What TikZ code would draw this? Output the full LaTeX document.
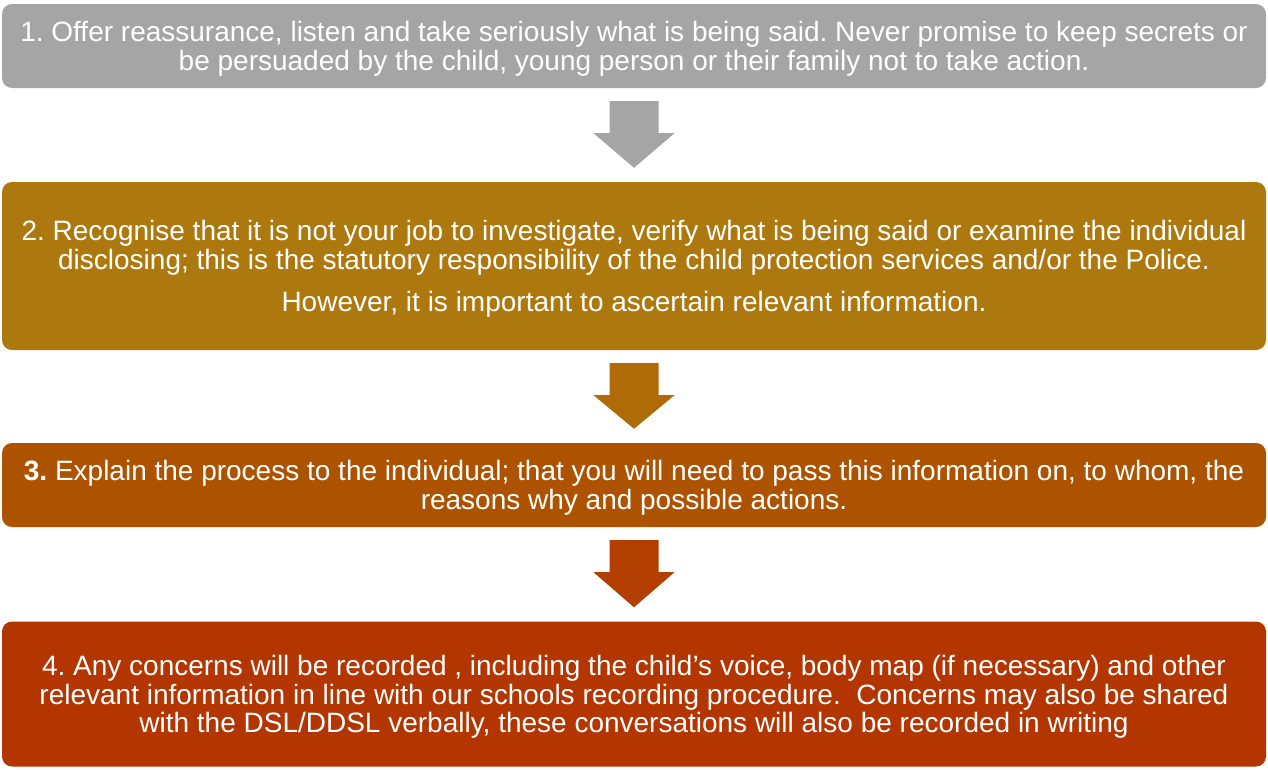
\documentclass[tikz,border=0pt]{standalone}
\usepackage{fontspec}
\setmainfont{Liberation Sans}
\usepackage{tikz}
\usetikzlibrary{calc}
\usetikzlibrary{positioning}
\definecolor{stepgray}{RGB}{165,165,165}
\definecolor{stepgold}{RGB}{173,121,14}
\definecolor{arrowgold}{RGB}{175,107,6}
\definecolor{steporange}{RGB}{173,83,0}
\definecolor{arrowrust}{RGB}{178,62,0}
\definecolor{stepred}{RGB}{179,53,0}

\begin{document}
\frenchspacing
\begin{tikzpicture}[x=1pt,y=-1pt,
  stepbox/.style={rectangle,rounded corners=10pt,minimum width=1264pt,inner sep=0pt,
    text=white,align=center,text depth=0pt,font=\fontsize{28}{28.8}\selectfont},
  downarrow/.style={fill=#1}]

\useasboundingbox (0,0) rectangle (1268,769);

\node[stepbox,fill=stepgray,minimum height=84pt] (b1) at (634,46)
  {1. Offer reassurance, listen and take seriously what is being said. Never promise to keep secrets or\\
   be persuaded by the child, young person or their family not to take action.};

\node[stepbox,fill=stepgold,minimum height=168pt] (b2) at (634,266)
  {2. Recognise that it is not your job to investigate, verify what is being said or examine the individual\\
   disclosing; this is the statutory responsibility of the child protection services and/or the Police.\\[13pt]
   However, it is important to ascertain relevant information.};

\node[stepbox,fill=steporange,minimum height=84pt] (b3) at (634,485)
  {\textbf{3.} Explain the process to the individual; that you will need to pass this information on, to whom, the\\
   reasons why and possible actions.};

\node[stepbox,fill=stepred,minimum height=145pt] (b4) at (634,694)
  {4. Any concerns will be recorded , including the child's voice, body map (if necessary) and other\\
   relevant information in line with our schools recording procedure.\ \ Concerns may also be shared\\
   with the DSL/DDSL verbally, these conversations will also be recorded in writing};

% arrows between the steps
\foreach \top/\bot/\col in {b1/b2/stepgray, b2/b3/arrowgold, b3/b4/arrowrust}{
  \coordinate (tip) at ($(\bot.north)+(0,-14)$);
  \coordinate (tail) at ($(\top.south)+(0,13)$);
  \fill[downarrow=\col] ($(tail)+(-24.5,0)$) -- ($(tail)+(24.5,0)$) -- ($(tail)+(24.5,32)$)
    -- ($(tail)+(40.5,32)$) -- (tip) -- ($(tail)+(-40.5,32)$) -- ($(tail)+(-24.5,32)$) -- cycle;
}
\end{tikzpicture}
\end{document}
